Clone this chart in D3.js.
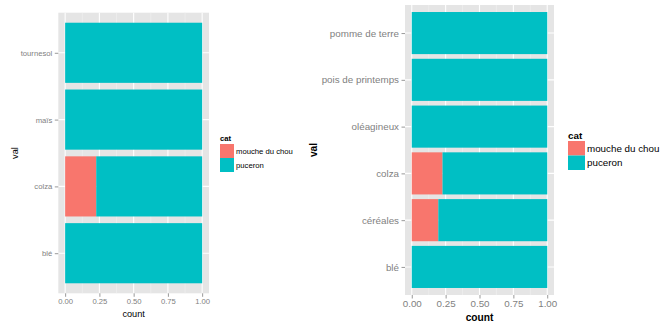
<!DOCTYPE html>
<html>
<head>
<meta charset="utf-8">
<script src="https://cdn.jsdelivr.net/npm/d3@7"></script>
<style>
  html, body { margin: 0; padding: 0; background: #fff; }
  svg { display: block; font-family: "Liberation Sans", Arial, Helvetica, sans-serif; }
</style>
</head>
<body>
<svg id="chart" width="663" height="323"></svg>
<script>
// ---- data ----
const seriesNames = ["mouche du chou", "puceron"];
const seriesColors = ["#F8766D", "#00BFC4"];
const xTickValues = [0, 0.25, 0.5, 0.75, 1];
const xTickLabels = ["0.00", "0.25", "0.50", "0.75", "1.00"];

const leftCategories = ["blé", "colza", "maïs", "tournesol"];
const leftMouche = [0, 0.227, 0, 0];
const leftPuceron = [1, 0.773, 1, 1];

const rightCategories = ["blé", "céréales", "colza", "oléagineux", "pois de printemps", "pomme de terre"];
const rightMouche = [0, 0.196, 0.227, 0, 0, 0];
const rightPuceron = [1, 0.804, 0.773, 1, 1, 1];

const svg = d3.select("#chart");

function drawChart(cfg) {
  const g = svg.append("g");
  const n = cfg.categories.length;
  const x = d3.scaleLinear().domain([-0.05, 1.05]).range([cfg.left, cfg.right]);
  const y = d3.scaleLinear().domain([0.4, n + 0.6]).range([cfg.bottom, cfg.top]);

  // panel
  g.append("rect").attr("x", cfg.left).attr("y", cfg.top)
    .attr("width", cfg.right - cfg.left).attr("height", cfg.bottom - cfg.top)
    .attr("fill", "#E5E5E5");
  // minor grid
  const minors = [0.125, 0.375, 0.625, 0.875];
  g.selectAll(".minor").data(minors).enter().append("line")
    .attr("x1", d => x(d)).attr("x2", d => x(d))
    .attr("y1", cfg.top).attr("y2", cfg.bottom)
    .attr("stroke", "#F2F2F2").attr("stroke-width", 0.6);
  // major grid
  g.selectAll(".majx").data(xTickValues).enter().append("line")
    .attr("x1", d => x(d)).attr("x2", d => x(d))
    .attr("y1", cfg.top).attr("y2", cfg.bottom)
    .attr("stroke", "#FFFFFF").attr("stroke-width", 1.1);
  g.selectAll(".majy").data(cfg.categories).enter().append("line")
    .attr("x1", cfg.left).attr("x2", cfg.right)
    .attr("y1", (d, i) => y(i + 1)).attr("y2", (d, i) => y(i + 1))
    .attr("stroke", "#FFFFFF").attr("stroke-width", 1.1);

  // stacked bars
  const rows = cfg.categories.map((c, i) => ({ c, i, v: [cfg.mouche[i], cfg.puceron[i]] }));
  const bh = y(0.55) - y(1.45);
  rows.forEach(r => {
    let acc = 0;
    r.v.forEach((v, s) => {
      if (v > 0) {
        g.append("rect")
          .attr("x", x(acc)).attr("width", x(acc + v) - x(acc))
          .attr("y", y(r.i + 1.45)).attr("height", bh)
          .attr("fill", seriesColors[s]);
      }
      acc += v;
    });
  });

  // y axis
  const yAxis = d3.axisLeft(y).tickValues(d3.range(1, n + 1))
    .tickFormat(d => cfg.categories[d - 1]).tickSize(3.5).tickPadding(2.5);
  const ya = g.append("g").attr("transform", `translate(${cfg.left},0)`).call(yAxis);
  ya.select(".domain").remove();
  ya.selectAll(".tick line").attr("stroke", "#999999");
  ya.selectAll(".tick text").attr("fill", "#7F7F7F").attr("font-size", cfg.tickFont + "px");

  // x axis
  const xAxis = d3.axisBottom(x).tickValues(xTickValues)
    .tickFormat((d, i) => xTickLabels[i]).tickSize(3.5).tickPadding(2);
  const xa = g.append("g").attr("transform", `translate(0,${cfg.bottom})`).call(xAxis);
  xa.select(".domain").remove();
  xa.selectAll(".tick line").attr("stroke", "#999999");
  xa.selectAll(".tick text").attr("fill", "#7F7F7F").attr("font-size", cfg.tickFont + "px");

  // axis titles
  g.append("text").attr("x", (x(0) + x(1)) / 2).attr("y", cfg.countY)
    .attr("text-anchor", "middle").attr("dominant-baseline", "central")
    .attr("font-size", cfg.titleFont + "px").attr("font-weight", cfg.titleWeight)
    .attr("fill", "#000").text("count");
  g.append("text").attr("transform", `translate(${cfg.valX},${(cfg.top + cfg.bottom) / 2}) rotate(-90)`)
    .attr("text-anchor", "middle").attr("dominant-baseline", "central")
    .attr("font-size", cfg.titleFont + "px").attr("font-weight", cfg.titleWeight)
    .attr("fill", "#000").text("val");

  // legend
  const L = cfg.legend;
  g.append("text").attr("x", L.x).attr("y", L.titleY)
    .attr("dominant-baseline", "central").attr("font-size", L.font + "px")
    .attr("font-weight", "bold").attr("fill", "#000").text("cat");
  seriesNames.forEach((name, s) => {
    g.append("rect").attr("x", L.x).attr("y", L.keyY + s * L.keyH)
      .attr("width", L.keyW).attr("height", L.keyH).attr("fill", seriesColors[s]);
    g.append("text").attr("x", L.x + L.keyW + 2).attr("y", L.keyY + s * L.keyH + L.keyH / 2)
      .attr("dominant-baseline", "central").attr("font-size", L.font + "px")
      .attr("fill", "#000").text(name);
  });
}

drawChart({
  categories: leftCategories, mouche: leftMouche, puceron: leftPuceron,
  left: 58.3, right: 209, top: 12.7, bottom: 293.3,
  tickFont: 7.7, titleFont: 9.2, titleWeight: "normal",
  countY: 313.5, valX: 15,
  legend: { x: 220, titleY: 138, keyY: 144, keyW: 14, keyH: 14, font: 7.7 }
});

drawChart({
  categories: rightCategories, mouche: rightMouche, puceron: rightPuceron,
  left: 405, right: 554, top: 5, bottom: 295,
  tickFont: 9.8, titleFont: 10.2, titleWeight: "bold",
  countY: 317, valX: 313,
  legend: { x: 568, titleY: 135, keyY: 141, keyW: 17, keyH: 14.5, font: 9.8 }
});
</script>
</body>
</html>
